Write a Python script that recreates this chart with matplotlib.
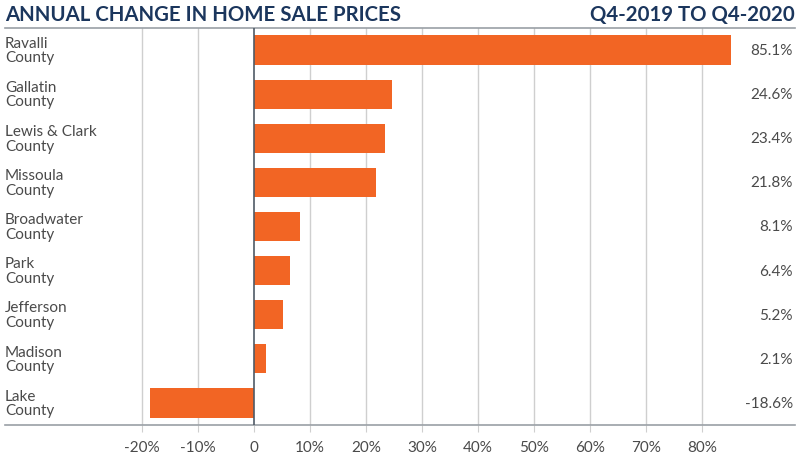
import matplotlib
matplotlib.use("Agg")
import matplotlib.pyplot as plt

counties = ["Ravalli\nCounty", "Gallatin\nCounty", "Lewis & Clark\nCounty", "Missoula\nCounty",
            "Broadwater\nCounty", "Park\nCounty", "Jefferson\nCounty", "Madison\nCounty", "Lake\nCounty"]
changes = [85.1, 24.6, 23.4, 21.8, 8.1, 6.4, 5.2, 2.1, -18.6]
ticks = [-20, -10, 0, 10, 20, 30, 40, 50, 60, 70, 80]
tick_labels = ["-20%", "-10%", "0", "10%", "20%", "30%", "40%", "50%", "60%", "70%", "80%"]

BAR = "#F26524"
NAVY = "#1B365D"
TEXT = "#4A4A4A"

plt.rcParams["font.family"] = ["Lato", "DejaVu Sans"]

fig = plt.figure(figsize=(8, 4.64), dpi=100)
ax = fig.add_axes([5 / 800, 38 / 464, 790 / 800, 397 / 464])

y = list(range(len(counties)))
ax.barh(y, changes, height=0.66, color=BAR, zorder=3)
ax.set_ylim(len(counties) - 0.5, -0.5)
ax.set_xlim(-44.5, 96.6)

for t in ticks:
    if t == 0:
        ax.axvline(0, color="#4F5A66", lw=1.2, zorder=4)
    else:
        ax.axvline(t, color="#CFCFCF", lw=1, zorder=1)

ax.set_xticks(ticks)
ax.set_xticklabels(tick_labels, fontsize=11, color=TEXT)
ax.tick_params(axis="x", length=5, color="#CFCFCF", pad=6)
ax.set_yticks([])

for s in ["left", "right"]:
    ax.spines[s].set_visible(False)
for s in ["top", "bottom"]:
    ax.spines[s].set_color("#9AA0A6")
    ax.spines[s].set_linewidth(1.2)

for i, (name, v) in enumerate(zip(counties, changes)):
    ax.text(0.0, i, name, transform=ax.get_yaxis_transform(), ha="left", va="center",
            fontsize=11, color=TEXT, linespacing=1.05)
    ax.text(0.997, i, f"{v:.1f}%", transform=ax.get_yaxis_transform(), ha="right", va="center",
            fontsize=11, color=TEXT)

fig.text(5 / 800, 1 - 15 / 464, "ANNUAL CHANGE IN HOME SALE PRICES", ha="left", va="center",
         fontsize=14.7, fontweight="bold", color=NAVY)
fig.text(795 / 800, 1 - 15 / 464, "Q4-2019 TO Q4-2020", ha="right", va="center",
         fontsize=14.7, fontweight="bold", color=NAVY)

fig.savefig("out.png", dpi=100)
